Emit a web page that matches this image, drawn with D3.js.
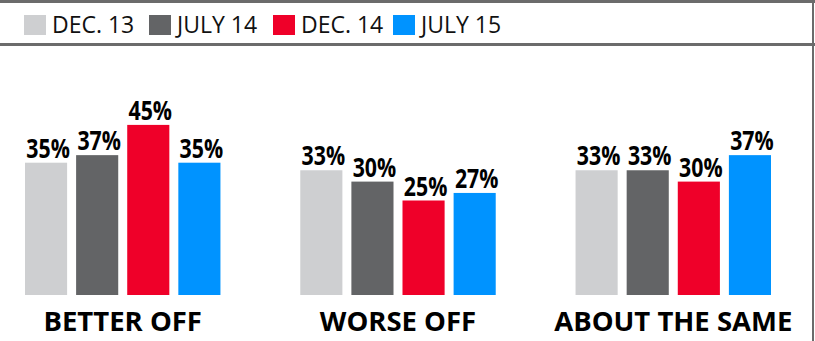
<!DOCTYPE html>
<html>
<head>
<meta charset="utf-8">
<script src="https://cdn.jsdelivr.net/npm/d3@7"></script>
<style>
  html, body { margin: 0; padding: 0; background: #fff; }
  svg { display: block; }
</style>
</head>
<body>
<svg id="chart" width="815" height="341"></svg>
<script>
// Survey answers by wave
const categories = ["BETTER OFF", "WORSE OFF", "ABOUT THE SAME"];
const waves = ["DEC. 13", "JULY 14", "DEC. 14", "JULY 15"];
const dec13  = [35, 33, 33];
const july14 = [37, 30, 33];
const dec14  = [45, 25, 30];
const july15 = [35, 27, 37];
const seriesValues = [dec13, july14, dec14, july15];
const colors = ["#cecfd1", "#636466", "#ef0029", "#0093ff"];

const W = 815, H = 341;
const svg = d3.select("#chart");

// frame: top rule, legend divider and right edge
const frameColor = "#6b6b6b";
svg.append("rect").attr("x", 0).attr("y", 0).attr("width", W).attr("height", 3).attr("fill", frameColor);
svg.append("rect").attr("x", 0).attr("y", 43).attr("width", W).attr("height", 3).attr("fill", frameColor);
svg.append("rect").attr("x", 812).attr("y", 0).attr("width", 2).attr("height", H).attr("fill", frameColor);

// legend
const legend = svg.append("g").attr("class", "legend");
const legendX = [24, 149, 273, 393];
waves.forEach((w, i) => {
  const g = legend.append("g").attr("transform", `translate(${legendX[i]},15)`);
  g.append("rect").attr("width", 22).attr("height", 20).attr("fill", colors[i]);
  g.append("text")
    .attr("x", 28).attr("y", 17.5)
    .attr("font-family", "'Open Sans', sans-serif")
    .attr("font-size", 23)
    .attr("fill", "#111")
    .attr("transform", "scale(1,1)")
    .text(w);
});

// scales
const baseY = 295;
const x0 = d3.scaleBand().domain(categories).range([25, 771]).paddingInner(0.29).paddingOuter(0);
const x1 = d3.scaleBand().domain(d3.range(waves.length)).range([0, x0.bandwidth()]).paddingInner(0.176).paddingOuter(0);
const y = d3.scaleLinear().domain([0, 50]).range([baseY, baseY - 189]);

const groups = svg.append("g").selectAll("g")
  .data(categories)
  .join("g")
  .attr("transform", d => `translate(${x0(d)},0)`);

groups.each(function(cat, ci) {
  const g = d3.select(this);
  const vals = seriesValues.map(s => s[ci]);
  g.selectAll("rect")
    .data(vals)
    .join("rect")
    .attr("x", (d, i) => x1(i))
    .attr("y", d => y(d))
    .attr("width", x1.bandwidth())
    .attr("height", d => baseY - y(d))
    .attr("fill", (d, i) => colors[i]);

  g.selectAll("text.value")
    .data(vals)
    .join("text")
    .attr("class", "value")
    .attr("transform", (d, i) => `translate(${x1(i) + x1.bandwidth() / 2 + 2},${y(d) - 5}) scale(0.82,1)`)
    .attr("text-anchor", "middle")
    .attr("font-family", "'Open Sans', sans-serif")
    .attr("font-weight", 700)
    .attr("font-size", 26)
    .attr("fill", "#000")
    .text(d => d + "%");

  g.append("text")
    .attr("x", x0.bandwidth() / 2)
    .attr("y", 331)
    .attr("text-anchor", "middle")
    .attr("font-family", "'Open Sans', sans-serif")
    .attr("font-weight", 700)
    .attr("font-size", 27.5)
    .attr("fill", "#000")
    .text(cat);
});
</script>
</body>
</html>
